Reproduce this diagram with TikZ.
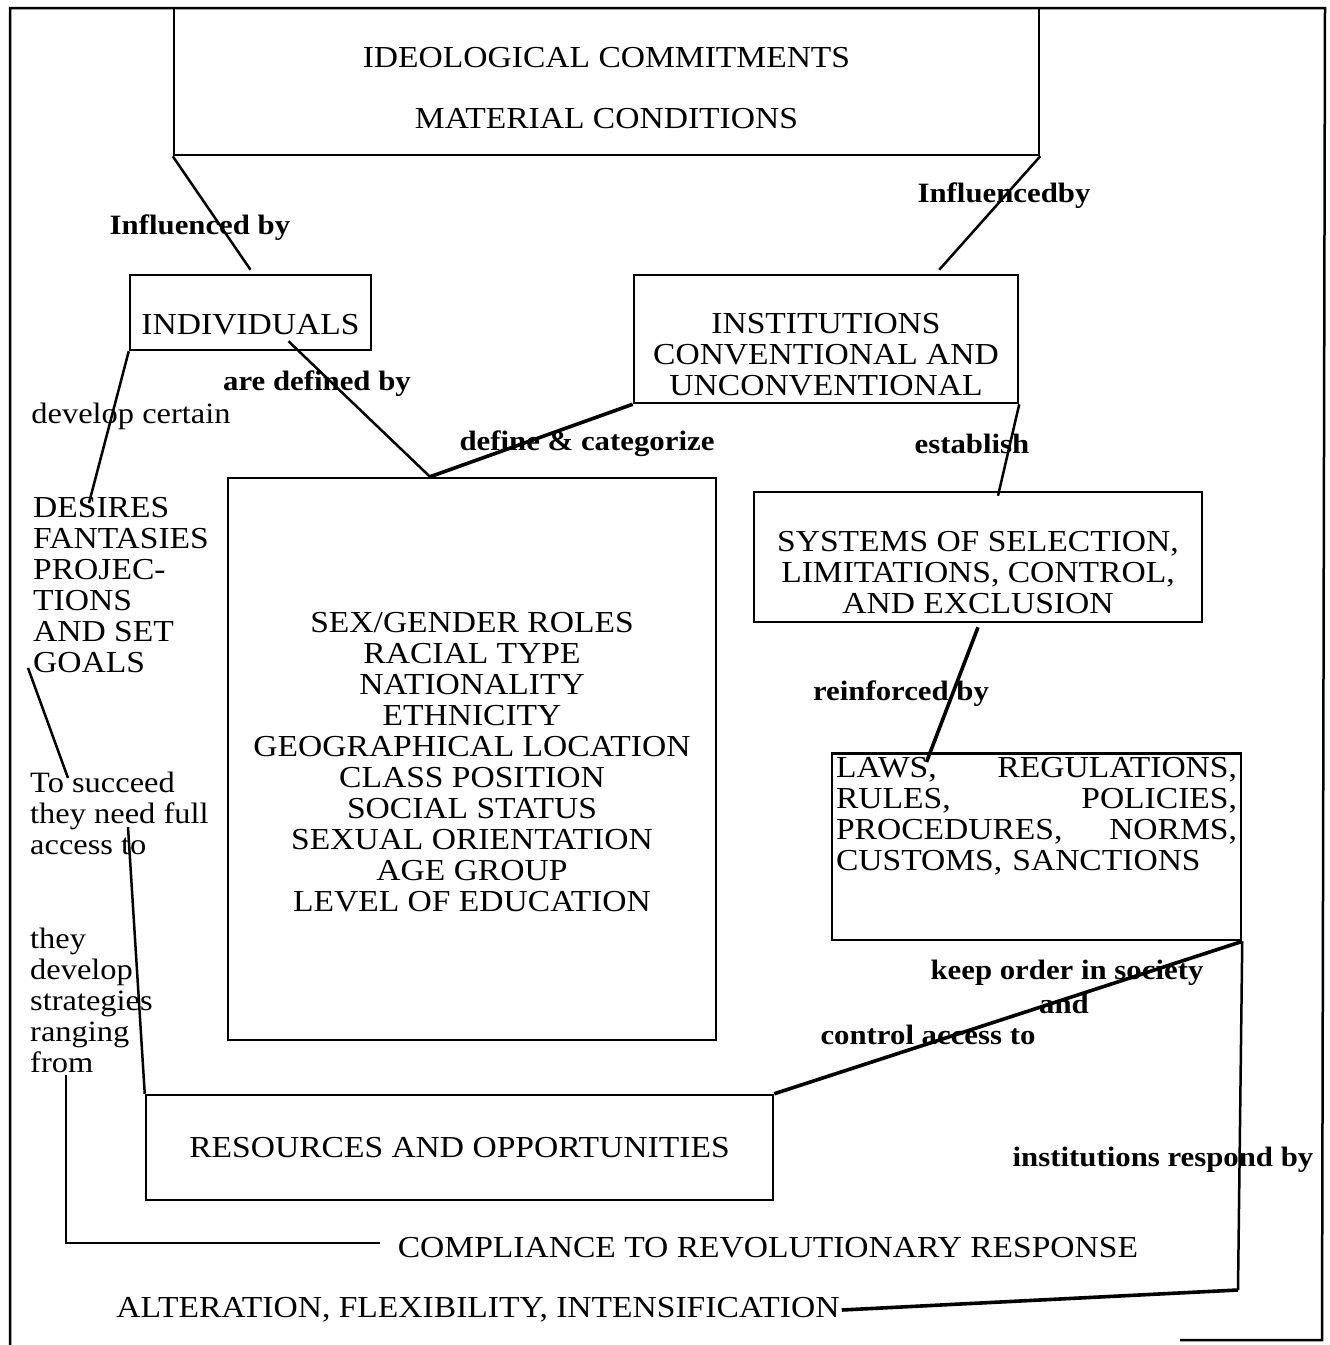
\documentclass[tikz,border=0pt]{standalone}
\usepackage{fontspec}
\setmainfont[FakeStretch=1.1]{Liberation Serif}
\usetikzlibrary{positioning, calc}

\newcommand{\capfont}{\fontsize{30.5}{31}\selectfont}
\newcommand{\txtfont}{\fontsize{29.5}{31}\selectfont}
\newcommand{\labfont}{\fontsize{28}{31}\selectfont\bfseries}
\newcommand{\lift}[1]{\rule{0pt}{#1}}

\begin{document}
\begin{tikzpicture}[x=1pt, y=-1pt,
    box/.style={rectangle, draw, black, line width=2.5pt, inner sep=0pt, align=center, font=\capfont},
    plain/.style={inner sep=0pt, align=left, font=\capfont},
    words/.style={inner sep=0pt, align=left, font=\txtfont},
    lab/.style={inner sep=0pt, font=\labfont},
    link/.style={draw, black, line width=2.5pt},
    heavy/.style={draw, black, line width=3.6pt}]

    \useasboundingbox (0,0) rectangle (1330,1345);

    % Outer frame, open at the bottom
    \draw[link] (10,1345) -- (10,8) -- (1325,8) -- (1322,1340) -- (1180,1340);

    % Boxes
    \node[box, minimum width=865pt, minimum height=147pt] (ideo) at (606.5,81.5) {\lift{34pt}IDEOLOGICAL COMMITMENTS\\[30pt]MATERIAL CONDITIONS};
    \node[box, minimum width=241pt, minimum height=75pt] (indiv) at (250.5,312.5) {\lift{44pt}INDIVIDUALS};
    \node[box, minimum width=384pt, minimum height=128pt] (inst) at (826,339) {\lift{52pt}INSTITUTIONS\\CONVENTIONAL AND\\UNCONVENTIONAL};
    \node[box, minimum width=488pt, minimum height=562pt] (categ) at (472,759) {\lift{26pt}SEX/GENDER ROLES\\RACIAL TYPE\\NATIONALITY\\ETHNICITY\\GEOGRAPHICAL LOCATION\\CLASS POSITION\\SOCIAL STATUS\\SEXUAL ORIENTATION\\AGE GROUP\\LEVEL OF EDUCATION};
    \node[box, minimum width=448pt, minimum height=130pt] (systems) at (978,557) {\lift{52pt}SYSTEMS OF SELECTION,\\LIMITATIONS, CONTROL,\\AND EXCLUSION};
    \node[box, anchor=north, text width=401pt, inner xsep=4pt, inner ysep=4pt, align=left] (laws) at (1036.5,752) {LAWS,\hfill REGULATIONS,\\RULES,\hfill POLICIES,\\PROCEDURES,\hfill NORMS,\\CUSTOMS, SANCTIONS\par\vspace*{61pt}};
    \node[box, minimum width=627pt, minimum height=105pt] (resources) at (459.5,1147.5) {RESOURCES AND OPPORTUNITIES};

    % Free text on the left and at the bottom
    \node[plain, anchor=north west] (desires) at (33,497) {DESIRES\\FANTASIES\\PROJEC-\\TIONS\\AND SET\\GOALS};
    \node[words, anchor=north west] (succeed) at (30,772) {To succeed\\they need full\\access to};
    \node[words, anchor=north west] (strategies) at (30,928) {they\\develop\\strategies\\ranging\\from};
    \node[plain] (compliance) at (768,1248) {COMPLIANCE TO REVOLUTIONARY RESPONSE};
    \node[plain] (alteration) at (478,1310) {ALTERATION, FLEXIBILITY, INTENSIFICATION};

    % Connector labels
    \node[lab] (infl_ind) at (200,228) {Influenced by};
    \node[lab] (infl_inst) at (1004,196) {Influencedby};
    \node[lab] (def_by) at (317,384) {are defined by};
    \node[words] (dev_cert) at (131,416) {develop certain};
    \node[lab] (def_cat) at (587,444) {define \& categorize};
    \node[lab] (estab) at (972,444) {establish};
    \node[lab] (reinf) at (901,694) {reinforced by};
    \node[lab] (keep) at (1067,973) {keep order in society};
    \node[lab] (and) at (1064,1004) {and};
    \node[lab] (ctrl) at (928,1035) {control access to};
    \node[lab] (respond) at (1163,1160) {institutions respond by};
    \coordinate (turn) at (1238,1290);

    % Connecting the boxes
    \draw[link] (ideo.south west) -- ([yshift=4pt]indiv.north);
    \draw[link] (ideo.south east) -- ([xshift=-80pt, yshift=4pt]inst.north east);
    \draw[link] ([xshift=38pt, yshift=10pt]indiv.south) -- ([xshift=-42pt]categ.north);
    \draw[heavy] (inst.south west) -- ([xshift=-42pt]categ.north);
    \draw[link] (indiv.south west) -- ([xshift=56pt, yshift=-6pt]desires.north west);
    \draw[link] (inst.south east) -- ([xshift=20pt, yshift=-5pt]systems.north);
    \draw[heavy] ([yshift=-4pt]systems.south) -- ([xshift=-110pt, yshift=-10pt]laws.north);
    \draw[heavy] (laws.south east) -- (resources.north east);
    \draw[link] (laws.south east) -- (turn);
    \draw[heavy] (turn) -- ([xshift=2pt]alteration.east);

    % Left column
    \draw[link] ([xshift=-5pt, yshift=5pt]desires.south west) -- ([xshift=38pt, yshift=-6pt]succeed.north west);
    \draw[link] ([xshift=98pt, yshift=28pt]succeed.south west) -- (resources.north west);
    \draw[link] ([xshift=36pt, yshift=-2pt]strategies.south west) |- ([xshift=-18pt, yshift=5pt]compliance.west);

\end{tikzpicture}
\end{document}
